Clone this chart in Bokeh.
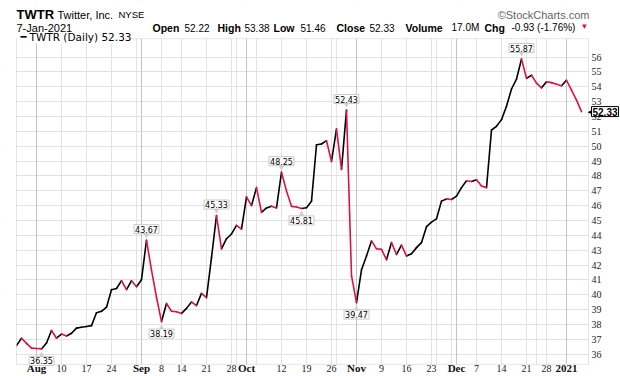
import math
import numpy as np
import pandas as pd
from bokeh.plotting import figure
from bokeh.models import (FixedTicker, Grid, Label, LabelSet, ColumnDataSource,
                          BoxAnnotation, Range1d, LogScale)
from bokeh.embed import file_html
from bokeh.resources import INLINE

# ---------------- data ----------------
start_date = "2020-07-28"
end_date = "2021-01-07"
holidays = ["2020-09-07", "2020-11-26", "2020-12-25", "2021-01-01"]

closes = [
    36.57, 37.07, 36.72, 36.40,                                   # Jul 28-31
    36.38, 36.35, 36.75, 37.59, 37.07, 37.35, 37.22, 37.40, 37.75, 37.81,
    37.86, 37.92, 38.78, 38.88, 39.16, 40.34, 40.42, 40.94, 40.34, 40.94,
    40.54,                                                        # Aug
    41.01, 43.67, 41.65, 39.83, 38.19, 39.41, 38.89, 38.85, 38.74, 39.08,
    39.51, 39.27, 40.09, 39.80, 42.50, 45.33, 43.09, 43.77, 44.09, 44.67,
    44.41,                                                        # Sep
    46.59, 46.00, 47.21, 45.55, 45.84, 45.95, 45.84, 48.25, 46.98, 45.95,
    45.90, 45.81, 45.86, 46.30, 50.10, 50.15, 50.37, 48.97, 51.16, 48.44,
    52.43, 41.28,                                                 # Oct
    39.47, 41.68, 42.61, 43.62, 43.09, 43.05, 42.36, 43.51, 42.71, 43.34,
    42.61, 42.76, 43.17, 43.51, 44.58, 44.89, 45.11, 46.30, 46.45, 46.41,  # Nov
    46.64, 47.21, 47.67, 47.62, 47.74, 47.32, 47.21, 51.09, 51.34, 51.79,
    52.69, 53.85, 54.52, 55.87, 54.57, 54.78, 54.25, 53.93, 54.33, 54.28,
    54.17, 54.07,                                                 # Dec
    54.44, 53.77, 53.10, 52.33,                                   # Jan
]

week_tick_dates = ["2020-08-10", "2020-08-17", "2020-08-24", "2020-09-08",
                   "2020-09-14", "2020-09-21", "2020-09-28", "2020-10-12",
                   "2020-10-19", "2020-10-26", "2020-11-09", "2020-11-16",
                   "2020-11-23", "2020-12-07", "2020-12-14", "2020-12-21",
                   "2020-12-28"]
week_tick_labels = ["10", "17", "24", "8", "14", "21", "28", "12", "19", "26",
                    "9", "16", "23", "7", "14", "21", "28"]
month_tick_dates = ["2020-08-03", "2020-09-01", "2020-10-01", "2020-11-02",
                    "2020-12-01", "2021-01-04"]
month_tick_labels = ["Aug", "Sep", "Oct", "Nov", "Dec", "2021"]
week_grid_dates = ["2020-08-03", "2020-08-10", "2020-08-17", "2020-08-24",
                   "2020-08-31", "2020-09-08", "2020-09-14", "2020-09-21",
                   "2020-09-28", "2020-10-05", "2020-10-12", "2020-10-19",
                   "2020-10-26", "2020-11-02", "2020-11-09", "2020-11-16",
                   "2020-11-23", "2020-11-30", "2020-12-07", "2020-12-14",
                   "2020-12-21", "2020-12-28", "2021-01-04"]
y_ticks = list(range(36, 57))

high_dates = ["2020-09-02", "2020-09-23", "2020-10-12", "2020-10-29", "2020-12-18"]
low_dates = ["2020-08-04", "2020-09-08", "2020-10-16", "2020-11-02"]

header_symbol = "TWTR"
header_name = "Twitter, Inc."
header_exch = "NYSE"
header_credit = "\u00a9StockCharts.com"
header_date = "7-Jan-2021"
quote_keys = ["Open", "High", "Low", "Close", "Volume", "Chg"]
quote_vals = ["52.22", "53.38", "51.46", "52.33", "17.0M", "-0.93 (-1.76%)"]
legend_text = "TWTR (Daily) 52.33"

# ---------------- layout (pixels) ----------------
W, H = 620, 376
FL, FT, FR, FB = 16, 30, 588, 360          # price-panel edges on the canvas
x_lo, x_hi = -4.0, 110.4                    # panel x limits (trading-day index)
y_lo, y_hi = 35.31, 57.24                   # panel y limits (log scale)

ppx = (FR - FL) / (x_hi - x_lo)
ppl = (FB - FT) / math.log(y_hi / y_lo)
xr = Range1d(x_lo - FL / ppx, x_hi + (W - FR) / ppx)
yr = Range1d(y_lo * math.exp(-(H - FB) / ppl), y_hi * math.exp(FT / ppl))

# ---------------- derived ----------------
dates = pd.bdate_range(start_date, end_date, freq="C", holidays=holidays)
pos = {d.strftime("%Y-%m-%d"): i - 4 for i, d in enumerate(dates)}
idx = np.array([pos[d.strftime("%Y-%m-%d")] for d in dates], dtype=float)
cl = np.array(closes)
x0, x1, y0, y1 = idx[:-1], idx[1:], cl[:-1], cl[1:]
up = y1 >= y0

RED = "#dc1440"
p = figure(width=W, height=H, x_range=xr, y_range=yr, y_scale=LogScale(),
           x_axis_location=None, y_axis_location=None,
           toolbar_location=None, output_backend="svg", min_border=0)
p.outline_line_color = None
p.background_fill_color = "white"
p.border_fill_color = "white"

# grids
wk = [pos[d] for d in week_grid_dates]
mo = [pos[d] for d in month_tick_dates]
p.add_layout(Grid(dimension=1, ticker=FixedTicker(ticks=y_ticks), grid_line_color="#e2e2e2"))
p.add_layout(Grid(dimension=0, ticker=FixedTicker(ticks=wk), grid_line_color="#e2e2e2"))
p.add_layout(Grid(dimension=0, ticker=FixedTicker(ticks=mo), grid_line_color="#c4c4c4"))

# price line: black when up, red when down
p.segment(x0=x0[up], y0=y0[up], x1=x1[up], y1=y1[up], line_color="black",
          line_width=1.6, line_cap="round")
p.segment(x0=x0[~up], y0=y0[~up], x1=x1[~up], y1=y1[~up], line_color=RED,
          line_width=1.6, line_cap="round")

# white margins around the price panel
for kw in (dict(bottom=y_hi), dict(top=y_lo), dict(right=x_lo), dict(left=x_hi)):
    p.add_layout(BoxAnnotation(fill_color="white", fill_alpha=1, line_color=None, **kw))
p.add_layout(BoxAnnotation(left=x_lo, right=x_hi, bottom=y_lo, top=y_hi,
                           fill_alpha=0, line_color="#a8a8a8", line_width=1))

# legend
p.add_layout(Label(x=FL + 1, y=H - 36, x_units="screen", y_units="screen",
                   text=legend_text + "  ", text_font="DejaVu Sans", text_font_size="10.5px",
                   text_baseline="middle", text_color="white",
                   background_fill_color="white", padding=1))
p.add_layout(Label(x=FL + 4, y=H - 36, x_units="screen", y_units="screen",
                   text="\u2501", text_font="DejaVu Sans", text_font_size="10px",
                   text_baseline="middle", text_color="black"))
p.add_layout(Label(x=FL + 13, y=H - 36, x_units="screen", y_units="screen",
                   text=legend_text, text_font="DejaVu Sans", text_font_size="10.5px",
                   text_baseline="middle", text_color="black"))

# x tick labels
wsrc = ColumnDataSource(dict(x=[pos[d] for d in week_tick_dates], t=week_tick_labels))
msrc = ColumnDataSource(dict(x=mo, t=month_tick_labels))
p.add_layout(LabelSet(source=wsrc, x="x", y=H - 371, y_units="screen", text="t",
                      text_align="center", text_baseline="alphabetic",
                      text_font="Liberation Sans", text_font_size="10px",
                      text_color="#222222"))
p.add_layout(LabelSet(source=msrc, x="x", y=H - 371, y_units="screen", text="t",
                      text_align="center", text_baseline="alphabetic",
                      text_font="Liberation Sans", text_font_size="11px",
                      text_font_style="bold", text_color="#111111"))

# y tick labels (right side)
ysrc = ColumnDataSource(dict(y=y_ticks, t=[str(v) for v in y_ticks]))
p.add_layout(LabelSet(source=ysrc, x=x_hi, y="y", text="t", x_offset=3,
                      text_align="left", text_baseline="middle",
                      text_font="Liberation Sans", text_font_size="10px",
                      text_color="#222222"))

# high / low annotations
def annot(d, off, ptr):
    i = pos[d]
    v = closes[i + 4]
    p.add_layout(Label(x=i, y=v, text=ptr, y_offset=off * 0.42, text_align="center",
                       text_baseline="middle", text_font="DejaVu Sans",
                       text_font_size="7px", text_color="#cfcfcf"))
    p.add_layout(Label(x=i, y=v, text=f"{v:.2f}", y_offset=off, text_align="center",
                       text_baseline="middle", text_font="DejaVu Sans",
                       text_font_size="8px", text_color="black",
                       background_fill_color="white", border_line_color="#c8c8c8",
                       border_line_width=1, padding=1))

for d in high_dates:
    annot(d, 11, "\u25bc")
for d in low_dates:
    annot(d, -12, "\u25b2")

# last value tag on the axis
p.add_layout(Label(x=x_hi, y=closes[-1], x_offset=-1, text="\u25c0",
                   text_align="left", text_baseline="middle",
                   text_font="DejaVu Sans", text_font_size="7px", text_color="black"))
p.add_layout(Label(x=x_hi, y=closes[-1], x_offset=3, text=f"{closes[-1]:.2f}",
                   text_align="left", text_baseline="middle",
                   text_font="Liberation Sans", text_font_size="10px",
                   text_font_style="bold", text_color="black",
                   background_fill_color="white", border_line_color="black",
                   border_line_width=1, padding=1))

# header
def hdr(text, x, y, size, bold=False, color="black", font="Liberation Sans", align="left"):
    p.add_layout(Label(x=x, y=H - y, x_units="screen", y_units="screen",
                       text=text, text_font=font, text_font_size=f"{size}px",
                       text_font_style="bold" if bold else "normal",
                       text_color=color, text_align=align, text_baseline="alphabetic"))

hdr(header_symbol, 16, 14, 13, bold=True)
hdr(header_name, 57, 14, 11)
hdr(header_exch, 118, 14, 9.5)
hdr(header_credit, 589, 14, 11, color="#666666", align="right")
hdr(header_date, 16, 27, 11)
key_x = [152, 217, 273, 336, 405, 484]
val_x = [184, 244, 300, 369, 451, 511]
for k, v, kx, vx in zip(quote_keys, quote_vals, key_x, val_x):
    hdr(k, kx, 27, 10.5, bold=True)
    hdr(v, vx, 27, 10)
hdr("\u25bc", 580, 26, 8, color=RED)

open("out.html", "w").write(file_html(p, INLINE))
